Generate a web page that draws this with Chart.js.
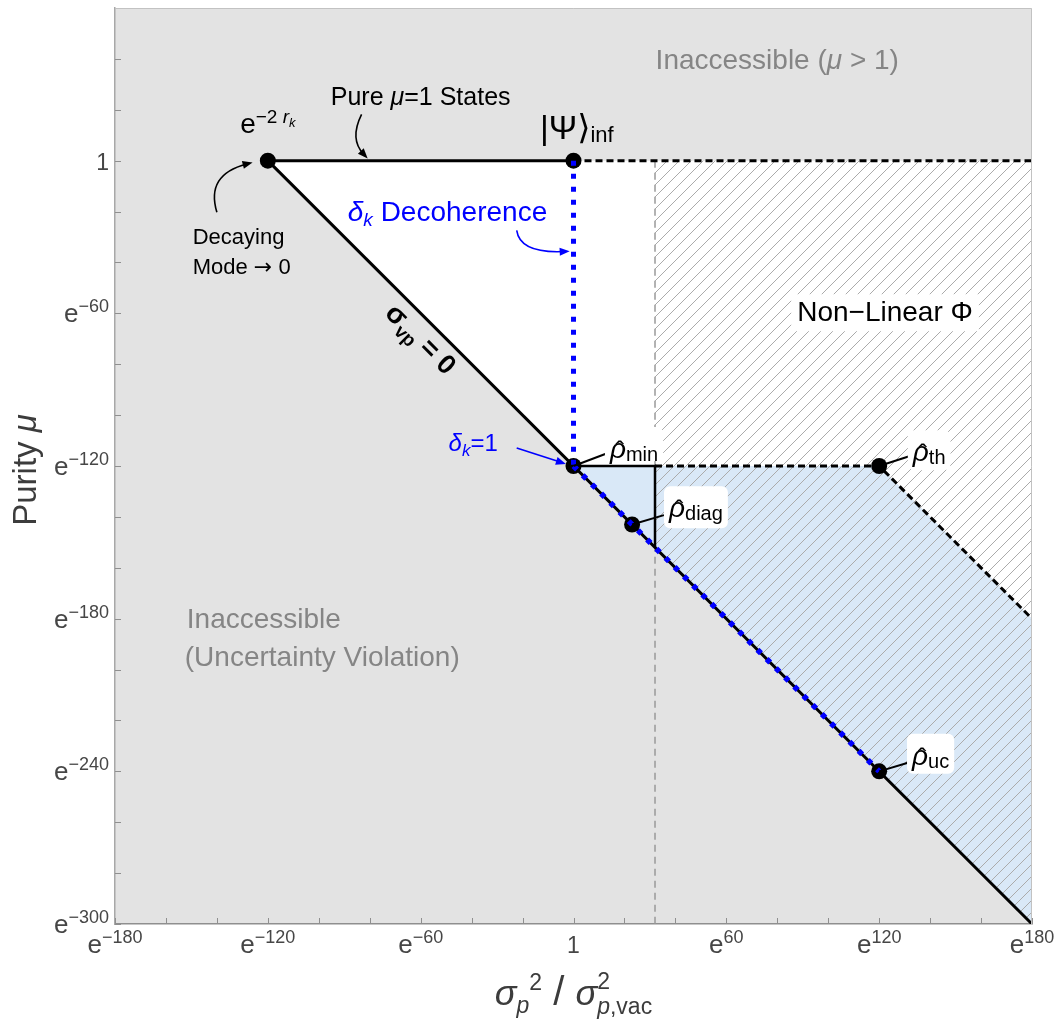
<!DOCTYPE html>
<html lang="en">
<head>
<meta charset="UTF-8">
<title>Purity vs. momentum variance</title>
<script src="https://cdn.jsdelivr.net/npm/chart.js"></script>
<style>
  body { margin: 0; background: #fff; }
  canvas { display: block; }
</style>
</head>
<body>
<canvas id="myChart" width="1059" height="1019"></canvas>
<script>
// both axes are in natural-log units: x = ln(σp² / σ²p,vac), y = ln μ
const xMajorTicks = [-180, -120, -60, 0, 60, 120, 180];
const xTickLabels = ['e^−180', 'e^−120', 'e^−60', '1', 'e^60', 'e^120', 'e^180'];
const yMajorTicks = [0, -60, -120, -180, -240, -300];
const yTickLabels = ['1', 'e^−60', 'e^−120', 'e^−180', 'e^−240', 'e^−300'];

// boundaries
const pureStates = [{x: -120, y: 0}, {x: 0, y: 0}];
const pureExtension = [{x: 0, y: 0}, {x: 180, y: 0}];
const zeroCorrelation = [{x: -120, y: 0}, {x: 180, y: -300}];
const decoherencePath = [{x: 0, y: 0}, {x: 0, y: -120}];
const minimalPath = [{x: 0, y: -120}, {x: 120, y: -240}];
const diagBox = [{x: 0, y: -120}, {x: 32, y: -120}, {x: 32, y: -152}];
const thermalEdge = [{x: 32, y: -120}, {x: 120, y: -120}, {x: 180, y: -180}];
const nonLinearEdge = [{x: 32, y: 0}, {x: 32, y: -300}];
// e^-2rk, |Ψ>inf, ρmin, ρdiag, ρth, ρuc
const namedStates = [
  {x: -120, y: 0}, {x: 0, y: 0}, {x: 0, y: -120},
  {x: 23, y: -143}, {x: 120, y: -120}, {x: 120, y: -240}
];

// regions
const openRegion = [{x: -120, y: 0}, {x: 180, y: 0}, {x: 180, y: -180}, {x: 120, y: -120}, {x: 0, y: -120}];
const physicalRegion = [{x: 0, y: -120}, {x: 120, y: -120}, {x: 180, y: -180}, {x: 180, y: -300}];
const nonLinearRegion = [{x: 32, y: 0}, {x: 180, y: 0}, {x: 180, y: -300}, {x: 32, y: -152}];

const SANS = '"Liberation Sans", Arial, "DejaVu Sans", sans-serif';
const font = (size, style) => (style ? style + ' ' : '') + size + 'px ' + SANS;

const canvas = document.getElementById('myChart');
const ctx = canvas.getContext('2d');

// diagonal hatch for the non-linear region
const hatch = (() => {
  const s = 12;
  const c = document.createElement('canvas');
  c.width = s; c.height = s;
  const g = c.getContext('2d');
  g.strokeStyle = '#ababab';
  g.lineWidth = 1;
  g.beginPath();
  g.moveTo(0, s); g.lineTo(s, 0);
  g.moveTo(-1, 1); g.lineTo(1, -1);
  g.moveTo(s - 1, s + 1); g.lineTo(s + 1, s - 1);
  g.stroke();
  return ctx.createPattern(c, 'repeat');
})();

function region(data, color, order) {
  return {
    data, order, showLine: true, fill: 'shape', indexAxis: 'y',
    backgroundColor: color, borderColor: 'rgba(0,0,0,0)', borderWidth: 0, pointRadius: 0
  };
}
function path(data, color, width, dash, order) {
  return {
    data, order, showLine: true, fill: false,
    borderColor: color, borderWidth: width, borderDash: dash || [],
    borderCapStyle: 'butt', pointRadius: 0
  };
}

// text made of pieces (sub/superscripts)
function rich(c, parts, x, y, align) {
  const widths = parts.map(p => { c.font = p.f; return p.back ? 0 : c.measureText(p.t).width; });
  const total = widths.reduce((a, b) => a + b, 0);
  let cx = align === 'center' ? x - total / 2 : align === 'right' ? x - total : x;
  c.textAlign = 'left';
  c.textBaseline = 'alphabetic';
  parts.forEach((p, i) => {
    c.font = p.f;
    c.fillText(p.t, cx, y + (p.dy || 0));
    if (p.hat) {
      const w = c.measureText(p.t).width;
      c.textAlign = 'center';
      c.font = font(26);
      c.fillText('\u02C6', cx + w / 2 + 2, y + 1);
      c.textAlign = 'left';
    }
    cx += widths[i];
  });
  return total;
}

function arrow(c, pts, color, width) {
  c.strokeStyle = color;
  c.fillStyle = color;
  c.lineWidth = width;
  const s = pts[0], e = pts[pts.length - 1], from = pts[pts.length - 2];
  const a = Math.atan2(e.y - from.y, e.x - from.x);
  const L = 10, W = 4;
  c.beginPath();
  c.moveTo(s.x, s.y);
  if (pts.length === 3) c.quadraticCurveTo(pts[1].x, pts[1].y, e.x - 6 * Math.cos(a), e.y - 6 * Math.sin(a));
  else c.lineTo(e.x - 6 * Math.cos(a), e.y - 6 * Math.sin(a));
  c.stroke();
  c.beginPath();
  c.moveTo(e.x, e.y);
  c.lineTo(e.x - L * Math.cos(a) + W * Math.sin(a), e.y - L * Math.sin(a) - W * Math.cos(a));
  c.lineTo(e.x - L * Math.cos(a) - W * Math.sin(a), e.y - L * Math.sin(a) + W * Math.cos(a));
  c.closePath();
  c.fill();
}

function roundBox(c, x, y, w, h, r) {
  c.beginPath();
  c.roundRect(x, y, w, h, r);
  c.fill();
}

const plotBackground = {
  id: 'plotBackground',
  beforeDraw(chart) {
    const {ctx: c, chartArea: a} = chart;
    c.save();
    c.fillStyle = '#e3e3e3';
    c.fillRect(a.left, a.top, a.right - a.left, a.bottom - a.top);
    c.restore();
  }
};

const annotations = {
  id: 'annotations',
  afterDatasetsDraw(chart) {
    const {ctx: c, scales: {x, y}} = chart;
    const P = (u, v) => ({x: x.getPixelForValue(u), y: y.getPixelForValue(v)});
    c.save();

    // grey region names
    c.fillStyle = '#858585';
    let p = P(80, 36);
    rich(c, [{t: 'Inaccessible (', f: font(28)}, {t: 'μ', f: font(28, 'italic')}, {t: ' > 1)', f: font(28)}], p.x, p.y, 'center');
    p = P(-151.8, -183.6);
    rich(c, [{t: 'Inaccessible', f: font(28)}], p.x, p.y, 'left');
    p = P(-152.6, -198.6);
    rich(c, [{t: '(Uncertainty Violation)', f: font(28)}], p.x, p.y, 'left');

    // black labels
    c.fillStyle = '#000';
    p = P(-60, 21.7);
    rich(c, [{t: 'Pure ', f: font(25)}, {t: 'μ', f: font(25, 'italic')}, {t: '=1 States', f: font(25)}], p.x, p.y, 'center');
    arrow(c, [P(-83.2, 18.2), P(-88, 8.5), P(-80.8, 0.9)], '#000', 1.6);

    c.fillStyle = '#000';
    p = P(-120, 10.7);
    rich(c, [
      {t: 'e', f: font(28)}, {t: '−2 ', f: font(19), dy: -10},
      {t: 'r', f: font(19, 'italic'), dy: -10}, {t: 'k', f: font(13, 'italic'), dy: -6}
    ], p.x, p.y, 'center');

    p = P(-149.5, -32.9);
    rich(c, [{t: 'Decaying', f: font(22)}], p.x, p.y, 'left');
    p = P(-149.5, -44.7);
    rich(c, [{t: 'Mode ', f: font(22)}, {t: '→', f: '22px "DejaVu Sans", sans-serif'}, {t: ' 0', f: font(22)}], p.x, p.y, 'left');
    arrow(c, [P(-140, -20.3), P(-144.5, -5.5), P(-126, -0.7)], '#000', 1.6);

    c.fillStyle = '#000';
    p = P(1.3, 8.7);
    rich(c, [{t: '|Ψ⟩', f: font(34)}, {t: 'inf', f: font(22), dy: 3}], p.x, p.y, 'center');

    // σvp = 0 along the diagonal
    p = P(-59.9, -70.1);
    c.save();
    c.translate(p.x, p.y);
    c.rotate(Math.PI / 4);
    rich(c, [{t: 'σ', f: font(28, 'bold')}, {t: 'vp', f: font(19, 'bold'), dy: 6}, {t: ' = 0', f: font(27, 'bold')}], 0, 9, 'center');
    c.restore();

    // blue labels
    c.fillStyle = '#0000ff';
    p = P(-88.6, -23.7);
    rich(c, [{t: 'δ', f: font(28, 'italic')}, {t: 'k', f: font(19, 'italic'), dy: 5}, {t: ' Decoherence', f: font(28)}], p.x, p.y, 'left');
    arrow(c, [P(-22.3, -27.4), P(-21, -36.5), P(-1.5, -35.6)], '#0000ff', 1.6);

    c.fillStyle = '#0000ff';
    p = P(-39.4, -114.1);
    rich(c, [{t: 'δ', f: font(24, 'italic')}, {t: 'k', f: font(17, 'italic'), dy: 5}, {t: '=1', f: font(24)}], p.x, p.y, 'center');
    arrow(c, [P(-22.3, -112.9), P(-3, -119.2)], '#0000ff', 1.6);

    // Non-Linear Φ with a white backing
    p = P(122.3, -63.1);
    c.font = font(28);
    const nlw = c.measureText('Non−Linear Φ').width;
    c.fillStyle = '#fff';
    c.fillRect(p.x - nlw / 2 - 6, p.y - 27, nlw + 12, 37);
    c.fillStyle = '#000';
    rich(c, [{t: 'Non−Linear Φ', f: font(28)}], p.x, p.y, 'center');

    // state labels with leader lines
    const states = [
      {at: namedStates[2], to: [13.5, -114.9], pos: [14.3, -116.9], sub: 'min', below: 3},
      {at: namedStates[3], to: [35.5, -139.3], pos: [37.5, -140.1], sub: 'diag', below: 11},
      {at: namedStates[4], to: [132.1, -116.1], pos: [133.2, -118.1], sub: 'th', below: 9},
      {at: namedStates[5], to: [131.3, -236.6], pos: [132.9, -237.4], sub: 'uc', below: 9}
    ];
    states.forEach(s => {
      const a = P(s.at.x, s.at.y), b = P(s.to[0], s.to[1]), q = P(s.pos[0], s.pos[1]);
      c.strokeStyle = '#000';
      c.lineWidth = 2;
      c.beginPath();
      c.moveTo(a.x, a.y);
      c.lineTo(b.x, b.y);
      c.stroke();
      c.font = font(28, 'italic');
      let w = c.measureText('ρ').width;
      c.font = font(20);
      w += c.measureText(s.sub).width;
      c.fillStyle = '#fff';
      roundBox(c, q.x - 5, q.y - 31, w + 10, 31 + s.below, 6);
      c.fillStyle = '#000';
      rich(c, [{t: 'ρ', f: font(28, 'italic'), hat: true}, {t: s.sub, f: font(20), dy: 3}], q.x, q.y, 'left');
    });

    c.restore();
  }
};

const axisDecor = {
  id: 'axisDecor',
  afterDraw(chart) {
    const {ctx: c, chartArea: a, scales: {x, y}} = chart;
    c.save();

    // light frame on top and right
    c.strokeStyle = '#c2c2c2';
    c.lineWidth = 1;
    c.beginPath();
    c.moveTo(a.left, a.top + 0.5);
    c.lineTo(a.right - 0.5, a.top + 0.5);
    c.lineTo(a.right - 0.5, a.bottom);
    c.stroke();

    // inward tick marks
    c.strokeStyle = '#8f8f8f';
    c.lineWidth = 1;
    c.beginPath();
    x.ticks.forEach(t => {
      const px = Math.round(x.getPixelForValue(t.value)) + 0.5;
      c.moveTo(px, a.bottom);
      c.lineTo(px, a.bottom - 6);
    });
    y.ticks.forEach(t => {
      if (t.value >= 60) return;
      const py = Math.round(y.getPixelForValue(t.value)) + 0.5;
      c.moveTo(a.left, py);
      c.lineTo(a.left + 6, py);
    });
    c.stroke();

    // tick labels
    const tickParts = label => {
      const [base, exp] = label.split('^');
      return exp ? [{t: base, f: font(26)}, {t: exp, f: font(18), dy: -10}] : [{t: base, f: font(23)}];
    };
    c.fillStyle = '#464646';
    xMajorTicks.forEach((v, i) => {
      rich(c, tickParts(xTickLabels[i]), x.getPixelForValue(v), a.bottom + 29, 'center');
    });
    yMajorTicks.forEach((v, i) => {
      rich(c, tickParts(yTickLabels[i]), a.left - 6, y.getPixelForValue(v) + 9, 'right');
    });

    // axis titles
    c.fillStyle = '#3c3c3c';
    rich(c, [
      {t: 'σ', f: font(36, 'italic')}, {t: 'p', f: font(23, 'italic'), dy: 8},
      {t: '2', f: font(23), dy: -15}, {t: ' / ', f: font(40)},
      {t: 'σ', f: font(36, 'italic')}, {t: '2', f: font(23), dy: -16, back: true},
      {t: 'p', f: font(23, 'italic'), dy: 9}, {t: ',vac', f: font(23), dy: 9}
    ], x.getPixelForValue(0), a.bottom + 81, 'center');

    c.translate(0, 470);
    c.rotate(-Math.PI / 2);
    rich(c, [{t: 'Purity ', f: font(33)}, {t: 'μ', f: font(33, 'italic')}], 0, 36, 'center');

    c.restore();
  }
};

const chart = new Chart(ctx, {
  type: 'scatter',
  data: {
    datasets: [
      path(decoherencePath, '#0000ff', 5, [5, 8], 1),
      path(minimalPath, '#0000ff', 5.5, [5, 8], 1),
      {
        data: namedStates, order: 2, showLine: false,
        pointRadius: 8, pointBackgroundColor: '#000', pointBorderWidth: 0, pointHoverRadius: 8
      },
      path(pureStates, '#000', 3, [], 3),
      path(zeroCorrelation, '#000', 3, [], 3),
      path(diagBox, '#000', 2.5, [], 3),
      path(pureExtension, '#000', 3, [7, 4], 3),
      path(thermalEdge, '#000', 3, [7, 4], 3),
      path(nonLinearEdge, '#9a9a9a', 1.5, [7, 5], 4),
      region(nonLinearRegion, hatch, 5),
      region(physicalRegion, '#d9e8f7', 6),
      region(openRegion, '#ffffff', 7)
    ]
  },
  options: {
    responsive: false,
    animation: false,
    events: [],
    layout: {padding: {left: 115, top: 7, right: 27, bottom: 95}},
    plugins: {legend: {display: false}, tooltip: {enabled: false}},
    scales: {
      x: {
        type: 'linear', min: -180, max: 180, z: 1,
        ticks: {stepSize: 20, display: false},
        grid: {display: false, drawTicks: false},
        border: {display: true, color: '#8f8f8f', width: 1.5}
      },
      y: {
        type: 'linear', min: -300, max: 60, z: 1,
        ticks: {stepSize: 20, display: false},
        grid: {display: false, drawTicks: false},
        border: {display: true, color: '#a8a8a8', width: 1.5}
      }
    }
  },
  plugins: [plotBackground, annotations, axisDecor]
});
</script>
</body>
</html>
